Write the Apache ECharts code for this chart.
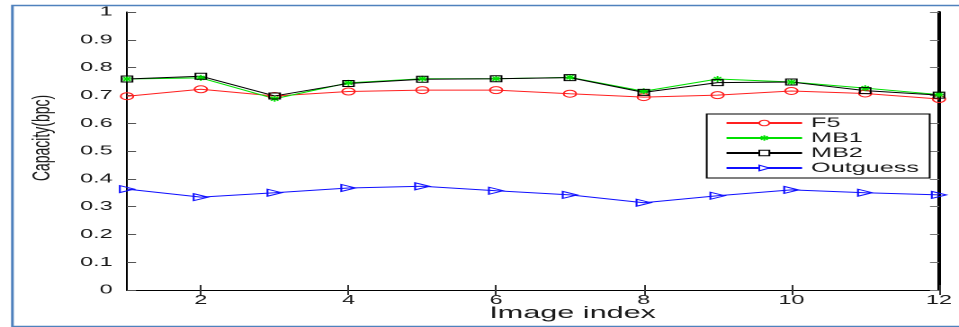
<!DOCTYPE html>
<html>
<head>
<meta charset="utf-8">
<script src="https://cdn.jsdelivr.net/npm/echarts@6/dist/echarts.min.js"></script>
<style>
html,body{margin:0;padding:0;background:#fff;overflow:hidden;}
#wrap{width:959px;height:327px;overflow:hidden;position:relative;}
#chart{width:533px;height:327px;transform-origin:0 0;transform:scaleX(1.7992);}
</style>
</head>
<body>
<div id="wrap"><div id="chart"></div></div>
<script>
// Data
const imageIndex = [1, 2, 3, 4, 5, 6, 7, 8, 9, 10, 11, 12];
const xTickValues = [2, 4, 6, 8, 10, 12];
const seriesNames = ['F5', 'MB1', 'MB2', 'Outguess'];
const f5 = [0.697, 0.722, 0.698, 0.714, 0.719, 0.719, 0.706, 0.694, 0.701, 0.716, 0.707, 0.687];
const mb1 = [0.759, 0.763, 0.688, 0.745, 0.760, 0.760, 0.765, 0.715, 0.759, 0.748, 0.726, 0.703];
const mb2 = [0.759, 0.769, 0.698, 0.743, 0.758, 0.760, 0.764, 0.711, 0.746, 0.748, 0.717, 0.701];
const outguess = [0.363, 0.334, 0.350, 0.367, 0.373, 0.357, 0.342, 0.314, 0.339, 0.360, 0.350, 0.342];

const pairs = arr => imageIndex.map((x, i) => [x, arr[i]]);
const FONT = '"Liberation Sans", Arial, Helvetica, sans-serif';
const chart = echarts.init(document.getElementById('chart'), null, {renderer: 'canvas', devicePixelRatio: 2});

const star = 'path://M5,0L5,10M0,5L10,5M1.6,1.6L8.4,8.4M8.4,1.6L1.6,8.4';
const RED = '#ff2020', GREEN = '#00e000', BLACK = '#000', BLUE = '#1010ff';
const HOLLOW = 'rgba(255,255,255,0)';

chart.setOption({
  animation: false,
  backgroundColor: '#fff',
  textStyle: {fontFamily: FONT},
  grid: {left: 70.6, right: 11.1, top: 12, bottom: 37, outerBoundsMode: 'none', containLabel: false},
  graphic: [{
    type: 'rect', left: 4.4, top: 3, silent: true, z: -1,
    shape: {width: 560, height: 321},
    style: {fill: 'none', stroke: '#4f81bd', lineWidth: 1.5}
  }],
  legend: {
    orient: 'vertical', left: 392.8, top: 114,
    padding: [2, 6, 3, 10],
    itemWidth: 42, itemHeight: 7, itemGap: 1,
    borderColor: '#000', borderWidth: 1, borderRadius: 0,
    backgroundColor: '#fff',
    textStyle: {fontSize: 14, color: '#1a1a1a', fontFamily: FONT},
    data: [
      {name: 'F5', itemStyle: {color: '#fff', borderColor: RED, borderWidth: 1}},
      {name: 'MB1', itemStyle: {color: GREEN, borderColor: GREEN, borderWidth: 1}},
      {name: 'MB2', itemStyle: {color: '#fff', borderColor: BLACK, borderWidth: 1}},
      {name: 'Outguess', itemStyle: {color: '#fff', borderColor: BLUE, borderWidth: 1}}
    ]
  },
  xAxis: [{
    type: 'value', min: 1, max: 12, position: 'bottom',
    name: 'Image index', nameLocation: 'middle', nameGap: 15, nameMoveOverlap: false,
    nameTextStyle: {fontSize: 17, color: '#1a1a1a', padding: [0, 0, 0, 44]},
    axisLine: {show: true, lineStyle: {color: '#000', width: 1}},
    axisTick: {show: true, inside: true, length: 5, customValues: xTickValues, lineStyle: {color: '#333'}},
    axisLabel: {show: true, customValues: xTickValues, margin: 4, fontSize: 13, color: '#1a1a1a'},
    splitLine: {show: false}
  }, {
    type: 'value', min: 1, max: 12, position: 'top',
    axisLine: {show: true, lineStyle: {color: '#000', width: 1}},
    axisTick: {show: true, inside: true, length: 5, customValues: xTickValues, lineStyle: {color: '#333'}},
    axisLabel: {show: false},
    splitLine: {show: false}
  }],
  yAxis: [{
    type: 'value', min: 0, max: 1, interval: 0.1, position: 'left',
    name: 'Capacity(bpc)', nameLocation: 'middle', nameGap: 40, nameMoveOverlap: false,
    nameTextStyle: {fontSize: 14, color: '#1a1a1a', padding: [0, 0, 0, 26]},
    axisLine: {show: true, lineStyle: {color: '#000', width: 1}},
    axisTick: {show: true, inside: true, length: 5, lineStyle: {color: '#555'}},
    axisLabel: {margin: 8, fontSize: 13, color: '#1a1a1a'},
    splitLine: {show: false}
  }, {
    type: 'value', min: 0, max: 1, interval: 0.1, position: 'right',
    axisLine: {show: true, lineStyle: {color: '#000', width: 2}},
    axisTick: {show: true, inside: true, length: 5, lineStyle: {color: '#777'}},
    axisLabel: {show: false},
    splitLine: {show: false}
  }],
  series: [{
    name: 'F5', type: 'line', data: pairs(f5),
    symbol: 'circle', symbolSize: 7, showAllSymbol: true,
    lineStyle: {color: RED, width: 1},
    itemStyle: {color: HOLLOW, borderColor: RED, borderWidth: 1}
  }, {
    name: 'MB1', type: 'line', data: pairs(mb1),
    symbol: star, symbolSize: 6, showAllSymbol: true,
    lineStyle: {color: GREEN, width: 1},
    itemStyle: {color: GREEN, borderColor: GREEN, borderWidth: 1}
  }, {
    name: 'MB2', type: 'line', data: pairs(mb2),
    symbol: 'rect', symbolSize: 6, showAllSymbol: true,
    lineStyle: {color: BLACK, width: 1},
    itemStyle: {color: HOLLOW, borderColor: BLACK, borderWidth: 1}
  }, {
    name: 'Outguess', type: 'line', data: pairs(outguess),
    symbol: 'triangle', symbolSize: [7, 8], symbolRotate: -90, showAllSymbol: true,
    lineStyle: {color: BLUE, width: 1},
    itemStyle: {color: HOLLOW, borderColor: BLUE, borderWidth: 1}
  }]
});
</script>
</body>
</html>
